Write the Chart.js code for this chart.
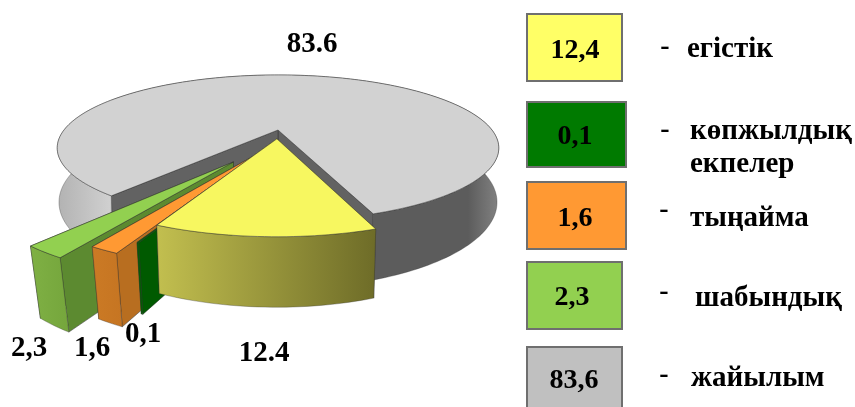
<!DOCTYPE html>
<html>
<head>
<meta charset="utf-8">
<script src="https://cdn.jsdelivr.net/npm/chart.js"></script>
<style>
  html, body { margin: 0; padding: 0; background: #fff; overflow: hidden; }
  canvas { display: block; filter: blur(0.45px); }
</style>
</head>
<body>
<canvas id="pieChart" width="855" height="407"></canvas>
<script>
// data
const categories = ['егістік', 'көпжылдық екпелер', 'тыңайма', 'шабындық', 'жайылым'];
const values = [12.4, 0.1, 1.6, 2.3, 83.6];
const pieLabels = ['12.4', '0,1', '1,6', '2,3', '83.6'];
const boxLabels = ['12,4', '0,1', '1,6', '2,3', '83,6'];

// slice styling
const topColors = ['#f7f760', '#006a00', '#ff9933', '#92d050', '#d2d2d2'];
const wallColors = ['#8f8d34', '#005a00', '#b86e20', '#5c8a30', '#626262'];
const explode = [14, 12.5, 24, 36.5, 0];
const sag = [0, 0.16, 0.15, 0.15, 0];
const taper = [0.02, 0.03, 0.035, 0.04, 0.008];
const rimStops = [
  [[0, '#c2bf4f'], [1, '#6e6c28']],
  [[0, '#006000'], [1, '#006000']],
  [[0, '#cb7a25'], [1, '#c67522']],
  [[0, '#7fb044'], [1, '#75a63c']],
  [[0, '#b2b2b2'], [0.12, '#d0d0d0'], [0.13, '#5c5c5c'], [0.93, '#5c5c5c'], [1, '#828282']]
];

// legend layout
const boxColors = ['#ffff66', '#007a00', '#ff9933', '#92d050', '#c0c0c0'];
const boxRects = [[527, 14, 95, 67], [527, 102, 99, 65], [527, 182, 99, 67], [527, 262, 95, 67], [527, 347, 95, 64]];
const boxTextX = [575, 575, 575, 572, 574];
const boxTextY = [51, 137, 219, 298, 381];
const dashX = [665, 665, 664, 664, 664];
const dashY = [47, 130, 210, 292, 375];
const legendLines = [['егістік', 687, 50], ['көпжылдық', 690, 132], ['екпелер', 690, 165], ['тыңайма', 690, 219], ['шабындық', 695, 299], ['жайылым', 691, 379]];
const pieLabelX = [264, 143, 92, 29, 312];
const pieLabelY = [354, 335, 349, 349, 45];

// 3d view of the ground plane
const rx = 214, ry = 68.6, persp = 0.246, depth = 51;

function project(cx, cy, u, v, z, t) {
  const w = 1 - persp * v;
  const f = 1 - t * z;
  return [cx + rx * u / w * f, cy + ry * v / w + z * depth / w];
}

function poly(ctx, pts, fill, line) {
  ctx.beginPath();
  pts.forEach((p, i) => i ? ctx.lineTo(p[0], p[1]) : ctx.moveTo(p[0], p[1]));
  ctx.closePath();
  ctx.fillStyle = fill;
  ctx.fill();
  ctx.lineWidth = 0.8;
  ctx.strokeStyle = line;
  ctx.stroke();
}

function drawSlice(ctx, arc, i) {
  const a0 = arc.startAngle, a1 = arc.endAngle, mid = (a0 + a1) / 2;
  const off = explode[i] / arc.outerRadius;
  const du = off * Math.cos(mid), dv = off * Math.sin(mid) + sag[i];
  const at = (a, r, z) => project(arc.x, arc.y, r * Math.cos(a) + du, r * Math.sin(a) + dv, z, taper[i]);
  const line = 'rgba(50,50,50,0.65)';

  const wall = a => [at(a, 0, 0), at(a, 1, 0), at(a, 1, 1), at(a, 0, 1)];
  poly(ctx, wall(a1), wallColors[i], line);
  poly(ctx, wall(a0), wallColors[i], line);

  const steps = Math.max(4, Math.ceil((a1 - a0) * 40));
  const upper = [], lower = [];
  for (let s = 0; s <= steps; s++) {
    const a = a0 + (a1 - a0) * s / steps;
    upper.push(at(a, 1, 0));
    lower.push(at(a, 1, 1));
  }
  const xs = upper.concat(lower).map(p => p[0]);
  const grad = ctx.createLinearGradient(Math.min(...xs), 0, Math.max(...xs), 0);
  rimStops[i].forEach(st => grad.addColorStop(st[0], st[1]));
  poly(ctx, upper.concat(lower.reverse()), grad, 'rgba(50,50,50,0.4)');

  poly(ctx, [at(a0, 0, 0)].concat(upper), topColors[i], line);
}

const pie3d = {
  id: 'pie3d',
  beforeDatasetDraw(chart, args) {
    const arcs = chart.getDatasetMeta(args.index).data;
    const ctx = chart.ctx;
    ctx.save();
    ctx.lineJoin = 'round';
    [4, 3, 2, 1, 0].forEach(i => drawSlice(ctx, arcs[i], i));
    ctx.restore();
    return false;
  },
  afterDraw(chart) {
    const ctx = chart.ctx;
    ctx.save();
    ctx.textBaseline = 'middle';
    ctx.fillStyle = '#000';

    ctx.textAlign = 'center';
    ctx.font = 'bold 29px "Liberation Serif"';
    pieLabels.forEach((t, i) => ctx.fillText(t, pieLabelX[i], pieLabelY[i]));

    boxRects.forEach((r, i) => {
      ctx.fillStyle = boxColors[i];
      ctx.fillRect(r[0], r[1], r[2], r[3]);
      ctx.strokeStyle = '#6f6f6f';
      ctx.lineWidth = 2;
      ctx.strokeRect(r[0], r[1], r[2], r[3]);
      ctx.fillStyle = '#000';
      ctx.font = 'bold 28px "Liberation Serif"';
      ctx.fillText(boxLabels[i], boxTextX[i], boxTextY[i]);
      ctx.fillText('-', dashX[i], dashY[i]);
    });

    ctx.textAlign = 'left';
    ctx.font = 'bold 29px "Liberation Serif"';
    legendLines.forEach(l => ctx.fillText(l[0], l[1], l[2]));
    ctx.restore();
  }
};

new Chart(document.getElementById('pieChart'), {
  type: 'pie',
  data: {
    labels: categories,
    datasets: [{
      data: values,
      backgroundColor: topColors,
      offset: explode,
      borderWidth: 0
    }]
  },
  options: {
    responsive: false,
    animation: false,
    rotation: 160,
    layout: { padding: { right: 299, bottom: 147 } },
    plugins: { legend: { display: false }, tooltip: { enabled: false } }
  },
  plugins: [pie3d]
});
</script>
</body>
</html>
